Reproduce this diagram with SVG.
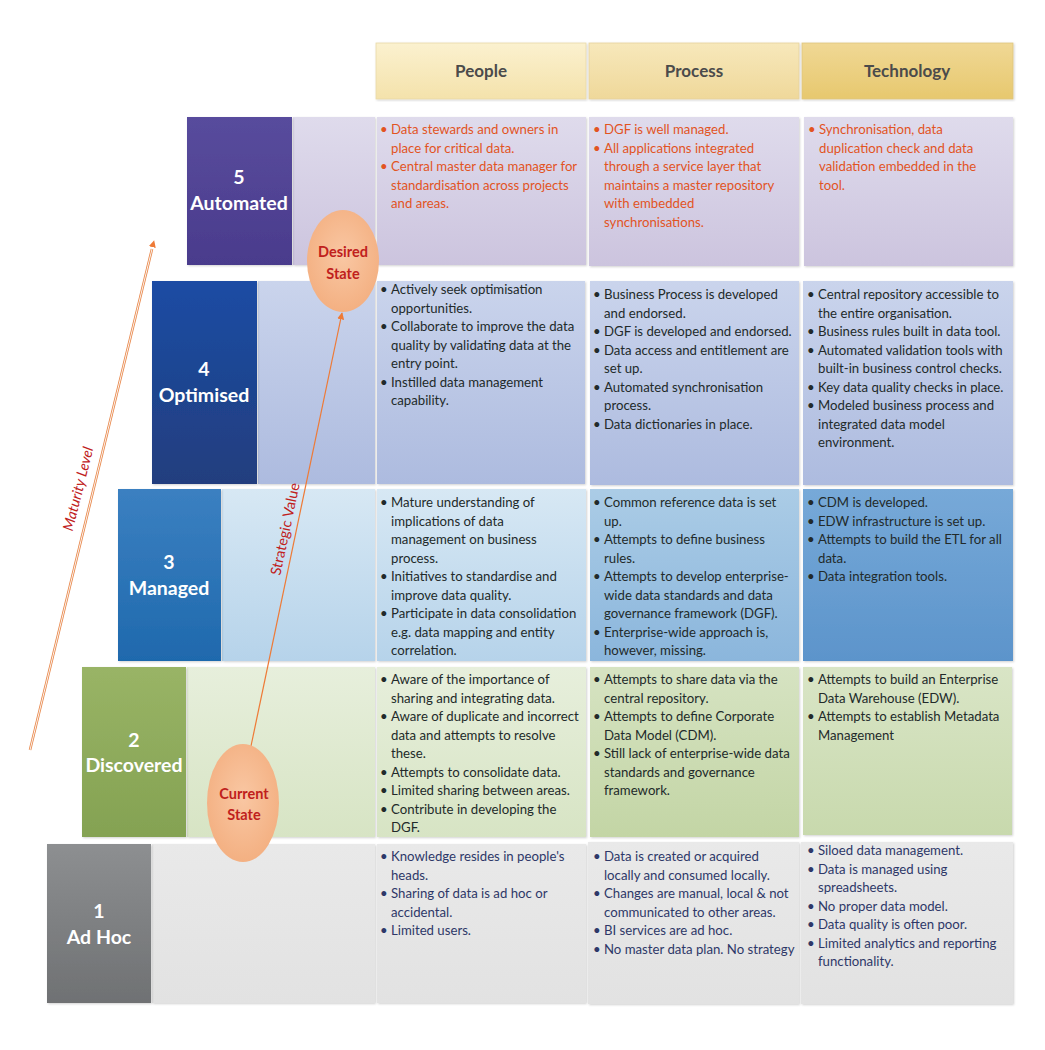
<svg xmlns="http://www.w3.org/2000/svg" width="1045" height="1050" viewBox="0 0 1045 1050">
<defs>
<linearGradient id="h1" x1="0" y1="0" x2="0" y2="1"><stop offset="0" stop-color="#fbf1cf"/><stop offset="1" stop-color="#f4e2ab"/></linearGradient>
<linearGradient id="h2" x1="0" y1="0" x2="0" y2="1"><stop offset="0" stop-color="#f7e8bb"/><stop offset="1" stop-color="#efd89a"/></linearGradient>
<linearGradient id="h3" x1="0" y1="0" x2="0" y2="1"><stop offset="0" stop-color="#f0d895"/><stop offset="1" stop-color="#e7c86e"/></linearGradient>
<linearGradient id="l5" x1="0" y1="0" x2="0" y2="1"><stop offset="0" stop-color="#584c9d"/><stop offset="1" stop-color="#4a3b8c"/></linearGradient>
<linearGradient id="c5" x1="0" y1="0" x2="0" y2="1"><stop offset="0" stop-color="#dfdbec"/><stop offset="1" stop-color="#ccc4de"/></linearGradient>
<linearGradient id="l4" x1="0" y1="0" x2="0" y2="1"><stop offset="0" stop-color="#1a4ca4"/><stop offset="1" stop-color="#233e7e"/></linearGradient>
<linearGradient id="c4" x1="0" y1="0" x2="0" y2="1"><stop offset="0" stop-color="#cad4ec"/><stop offset="1" stop-color="#adbbdf"/></linearGradient>
<linearGradient id="l3" x1="0" y1="0" x2="0" y2="1"><stop offset="0" stop-color="#3b80c1"/><stop offset="1" stop-color="#1f69ad"/></linearGradient>
<linearGradient id="c3a" x1="0" y1="0" x2="0" y2="1"><stop offset="0" stop-color="#d7e8f4"/><stop offset="1" stop-color="#b6d3ea"/></linearGradient>
<linearGradient id="c3b" x1="0" y1="0" x2="0" y2="1"><stop offset="0" stop-color="#abcce6"/><stop offset="1" stop-color="#8bb6dc"/></linearGradient>
<linearGradient id="c3c" x1="0" y1="0" x2="0" y2="1"><stop offset="0" stop-color="#77a9d8"/><stop offset="1" stop-color="#5c94cb"/></linearGradient>
<linearGradient id="l2" x1="0" y1="0" x2="0" y2="1"><stop offset="0" stop-color="#99b466"/><stop offset="1" stop-color="#84a252"/></linearGradient>
<linearGradient id="c2a" x1="0" y1="0" x2="0" y2="1"><stop offset="0" stop-color="#e7efdc"/><stop offset="1" stop-color="#d7e4c4"/></linearGradient>
<linearGradient id="c2b" x1="0" y1="0" x2="0" y2="1"><stop offset="0" stop-color="#d6e3c2"/><stop offset="1" stop-color="#c3d5a5"/></linearGradient>
<linearGradient id="c2c" x1="0" y1="0" x2="0" y2="1"><stop offset="0" stop-color="#d9e5c6"/><stop offset="1" stop-color="#c8d9ad"/></linearGradient>
<linearGradient id="l1" x1="0" y1="0" x2="0" y2="1"><stop offset="0" stop-color="#8d8f91"/><stop offset="1" stop-color="#6f7173"/></linearGradient>
<linearGradient id="c1" x1="0" y1="0" x2="0" y2="1"><stop offset="0" stop-color="#e9e9e9"/><stop offset="1" stop-color="#e2e2e2"/></linearGradient>
<radialGradient id="ov" cx="0.5" cy="0.45" r="0.6"><stop offset="0" stop-color="#f9c7a3"/><stop offset="1" stop-color="#f3ae7f"/></radialGradient>
<marker id="ah" viewBox="0 0 10 10" refX="9" refY="5" markerWidth="7" markerHeight="7" orient="auto-start-reverse" markerUnits="userSpaceOnUse"><path d="M0,0 L10,5 L0,10 z" fill="#ee7a36"/></marker>
<filter id="sh" x="-5%" y="-5%" width="110%" height="110%"><feDropShadow dx="1" dy="1" stdDeviation="0.8" flood-color="#000" flood-opacity="0.18"/></filter>
</defs>
<style>
.hd{font-family:Lato,"Liberation Sans",sans-serif;font-weight:bold;font-size:17px;fill:#4b4b4b;text-anchor:middle}
.lb{font-family:Lato,"Liberation Sans",sans-serif;font-weight:bold;font-size:19.5px;fill:#ffffff;text-anchor:middle}
.t{font-family:Lato,"Liberation Sans",sans-serif;font-size:13.2px;fill:#222a2a}
.o{fill:#e2541f}
.n{fill:#2e3868}
.st{font-family:Lato,"Liberation Sans",sans-serif;font-weight:bold;font-size:14.5px;fill:#c0201c;text-anchor:middle}
.ax{font-family:Lato,"Liberation Sans",sans-serif;font-style:italic;font-size:14.5px;fill:#c0201c;text-anchor:middle}
.cell{filter:url(#sh)}
</style>
<rect width="1045" height="1050" fill="#ffffff"/>

<g id="headers">
<g id="hdr-people"><rect class="cell" x="376" y="43" width="210" height="56" fill="url(#h1)" stroke="#e8d9a8" stroke-width="0.8"/><text class="hd" x="481" y="77">People</text></g>
<g id="hdr-process"><rect class="cell" x="589" y="43" width="210" height="56" fill="url(#h2)" stroke="#e5d39d" stroke-width="0.8"/><text class="hd" x="694" y="77">Process</text></g>
<g id="hdr-technology"><rect class="cell" x="802" y="43" width="211" height="56" fill="url(#h3)" stroke="#dfc57e" stroke-width="0.8"/><text class="hd" x="907" y="77">Technology</text></g>
</g>

<g id="level5">
<rect class="cell" x="293" y="117" width="82" height="148" fill="url(#c5)"/>
<rect class="cell" x="377" y="117" width="209" height="148" fill="url(#c5)"/>
<rect class="cell" x="589" y="117" width="210" height="149" fill="url(#c5)"/>
<rect class="cell" x="804" y="117" width="209" height="149" fill="url(#c5)"/>
<rect class="cell" x="187" y="117" width="105" height="148" fill="url(#l5)"/>
<text class="lb"><tspan x="239" y="184">5</tspan><tspan x="239" y="210">Automated</tspan></text>
<text class="t o"><tspan x="380" y="134">•</tspan><tspan x="391" y="134">Data stewards and owners in</tspan><tspan x="391" y="152.5">place for critical data.</tspan><tspan x="380" y="171">•</tspan><tspan x="391" y="171">Central master data manager for</tspan><tspan x="391" y="189.5">standardisation across projects</tspan><tspan x="391" y="208">and areas.</tspan></text>
<text class="t o"><tspan x="593" y="134">•</tspan><tspan x="604" y="134">DGF is well managed.</tspan><tspan x="593" y="152.5">•</tspan><tspan x="604" y="152.5">All applications integrated</tspan><tspan x="604" y="171">through a service layer that</tspan><tspan x="604" y="189.5">maintains a master repository</tspan><tspan x="604" y="208">with embedded</tspan><tspan x="604" y="226.5">synchronisations.</tspan></text>
<text class="t o"><tspan x="808" y="134">•</tspan><tspan x="819" y="134">Synchronisation, data</tspan><tspan x="819" y="152.5">duplication check and data</tspan><tspan x="819" y="171">validation embedded in the</tspan><tspan x="819" y="189.5">tool.</tspan></text>
</g>

<g id="level4">
<rect class="cell" x="258" y="281" width="117" height="203" fill="url(#c4)"/>
<rect class="cell" x="377" y="281" width="208" height="203" fill="url(#c4)"/>
<rect class="cell" x="590" y="281" width="209" height="204" fill="url(#c4)"/>
<rect class="cell" x="803" y="281" width="210" height="204" fill="url(#c4)"/>
<rect class="cell" x="152" y="281" width="105" height="203" fill="url(#l4)"/>
<text class="lb"><tspan x="204" y="376">4</tspan><tspan x="204" y="402">Optimised</tspan></text>
<text class="t"><tspan x="380" y="294">•</tspan><tspan x="391" y="294">Actively seek optimisation</tspan><tspan x="391" y="312.5">opportunities.</tspan><tspan x="380" y="331">•</tspan><tspan x="391" y="331">Collaborate to improve the data</tspan><tspan x="391" y="349.5">quality by validating data at the</tspan><tspan x="391" y="368">entry point.</tspan><tspan x="380" y="386.5">•</tspan><tspan x="391" y="386.5">Instilled data management</tspan><tspan x="391" y="405">capability.</tspan></text>
<text class="t"><tspan x="593" y="299">•</tspan><tspan x="604" y="299">Business Process is developed</tspan><tspan x="604" y="317.5">and endorsed.</tspan><tspan x="593" y="336">•</tspan><tspan x="604" y="336">DGF is developed and endorsed.</tspan><tspan x="593" y="354.5">•</tspan><tspan x="604" y="354.5">Data access and entitlement are</tspan><tspan x="604" y="373">set up.</tspan><tspan x="593" y="391.5">•</tspan><tspan x="604" y="391.5">Automated synchronisation</tspan><tspan x="604" y="410">process.</tspan><tspan x="593" y="428.5">•</tspan><tspan x="604" y="428.5">Data dictionaries in place.</tspan></text>
<text class="t"><tspan x="807" y="299">•</tspan><tspan x="818" y="299">Central repository accessible to</tspan><tspan x="818" y="317.5">the entire organisation.</tspan><tspan x="807" y="336">•</tspan><tspan x="818" y="336">Business rules built in data tool.</tspan><tspan x="807" y="354.5">•</tspan><tspan x="818" y="354.5">Automated validation tools with</tspan><tspan x="818" y="373">built-in business control checks.</tspan><tspan x="807" y="391.5">•</tspan><tspan x="818" y="391.5">Key data quality checks in place.</tspan><tspan x="807" y="410">•</tspan><tspan x="818" y="410">Modeled business process and</tspan><tspan x="818" y="428.5">integrated data model</tspan><tspan x="818" y="447">environment.</tspan></text>
</g>

<g id="level3">
<rect class="cell" x="222" y="489" width="153" height="172" fill="url(#c3a)"/>
<rect class="cell" x="377" y="489" width="209" height="172" fill="url(#c3a)"/>
<rect class="cell" x="590" y="489" width="209" height="172" fill="url(#c3b)"/>
<rect class="cell" x="803" y="489" width="210" height="172" fill="url(#c3c)"/>
<rect class="cell" x="118" y="489" width="103" height="172" fill="url(#l3)"/>
<text class="lb"><tspan x="169" y="569">3</tspan><tspan x="169" y="595">Managed</tspan></text>
<text class="t"><tspan x="380" y="507">•</tspan><tspan x="391" y="507">Mature understanding of</tspan><tspan x="391" y="525.5">implications of data</tspan><tspan x="391" y="544">management on business</tspan><tspan x="391" y="562.5">process.</tspan><tspan x="380" y="581">•</tspan><tspan x="391" y="581">Initiatives to standardise and</tspan><tspan x="391" y="599.5">improve data quality.</tspan><tspan x="380" y="618">•</tspan><tspan x="391" y="618">Participate in data consolidation</tspan><tspan x="391" y="636.5">e.g. data mapping and entity</tspan><tspan x="391" y="655">correlation.</tspan></text>
<text class="t"><tspan x="593" y="507">•</tspan><tspan x="604" y="507">Common reference data is set</tspan><tspan x="604" y="525.5">up.</tspan><tspan x="593" y="544">•</tspan><tspan x="604" y="544">Attempts to define business</tspan><tspan x="604" y="562.5">rules.</tspan><tspan x="593" y="581">•</tspan><tspan x="604" y="581">Attempts to develop enterprise-</tspan><tspan x="604" y="599.5">wide data standards and data</tspan><tspan x="604" y="618">governance framework (DGF).</tspan><tspan x="593" y="636.5">•</tspan><tspan x="604" y="636.5">Enterprise-wide approach is,</tspan><tspan x="604" y="655">however, missing.</tspan></text>
<text class="t"><tspan x="807" y="507">•</tspan><tspan x="818" y="507">CDM is developed.</tspan><tspan x="807" y="525.5">•</tspan><tspan x="818" y="525.5">EDW infrastructure is set up.</tspan><tspan x="807" y="544">•</tspan><tspan x="818" y="544">Attempts to build the ETL for all</tspan><tspan x="818" y="562.5">data.</tspan><tspan x="807" y="581">•</tspan><tspan x="818" y="581">Data integration tools.</tspan></text>
</g>

<g id="level2">
<rect class="cell" x="187" y="667" width="188" height="170" fill="url(#c2a)"/>
<rect class="cell" x="377" y="667" width="209" height="170" fill="url(#c2a)"/>
<rect class="cell" x="590" y="667" width="209" height="170" fill="url(#c2b)"/>
<rect class="cell" x="803" y="667" width="209" height="168" fill="url(#c2c)"/>
<rect class="cell" x="82" y="667" width="104" height="170" fill="url(#l2)"/>
<text class="lb"><tspan x="134" y="747">2</tspan><tspan x="134" y="772">Discovered</tspan></text>
<text class="t"><tspan x="380" y="684">•</tspan><tspan x="391" y="684">Aware of the importance of</tspan><tspan x="391" y="702.5">sharing and integrating data.</tspan><tspan x="380" y="721">•</tspan><tspan x="391" y="721">Aware of duplicate and incorrect</tspan><tspan x="391" y="739.5">data and attempts to resolve</tspan><tspan x="391" y="758">these.</tspan><tspan x="380" y="776.5">•</tspan><tspan x="391" y="776.5">Attempts to consolidate data.</tspan><tspan x="380" y="795">•</tspan><tspan x="391" y="795">Limited sharing between areas.</tspan><tspan x="380" y="813.5">•</tspan><tspan x="391" y="813.5">Contribute in developing the</tspan><tspan x="391" y="832">DGF.</tspan></text>
<text class="t"><tspan x="593" y="684">•</tspan><tspan x="604" y="684">Attempts to share data via the</tspan><tspan x="604" y="702.5">central repository.</tspan><tspan x="593" y="721">•</tspan><tspan x="604" y="721">Attempts to define Corporate</tspan><tspan x="604" y="739.5">Data Model (CDM).</tspan><tspan x="593" y="758">•</tspan><tspan x="604" y="758">Still lack of enterprise-wide data</tspan><tspan x="604" y="776.5">standards and governance</tspan><tspan x="604" y="795">framework.</tspan></text>
<text class="t"><tspan x="807" y="684">•</tspan><tspan x="818" y="684">Attempts to build an Enterprise</tspan><tspan x="818" y="702.5">Data Warehouse (EDW).</tspan><tspan x="807" y="721">•</tspan><tspan x="818" y="721">Attempts to establish Metadata</tspan><tspan x="818" y="739.5">Management</tspan></text>
</g>

<g id="level1">
<rect class="cell" x="152" y="844" width="223" height="159" fill="url(#c1)"/>
<rect class="cell" x="377" y="844" width="209" height="159" fill="url(#c1)"/>
<rect class="cell" x="588" y="842" width="211" height="162" fill="url(#c1)"/>
<rect class="cell" x="801" y="842" width="212" height="162" fill="url(#c1)"/>
<rect class="cell" x="47" y="844" width="104" height="159" fill="url(#l1)"/>
<text class="lb"><tspan x="99" y="918">1</tspan><tspan x="99" y="944">Ad Hoc</tspan></text>
<text class="t n"><tspan x="380" y="861">•</tspan><tspan x="391" y="861">Knowledge resides in people's</tspan><tspan x="391" y="879.5">heads.</tspan><tspan x="380" y="898">•</tspan><tspan x="391" y="898">Sharing of data is ad hoc or</tspan><tspan x="391" y="916.5">accidental.</tspan><tspan x="380" y="935">•</tspan><tspan x="391" y="935">Limited users.</tspan></text>
<text class="t n"><tspan x="593" y="861">•</tspan><tspan x="604" y="861">Data is created or acquired</tspan><tspan x="604" y="879.5">locally and consumed locally.</tspan><tspan x="593" y="898">•</tspan><tspan x="604" y="898">Changes are manual, local &amp; not</tspan><tspan x="604" y="916.5">communicated to other areas.</tspan><tspan x="593" y="935">•</tspan><tspan x="604" y="935">BI services are ad hoc.</tspan><tspan x="593" y="953.5">•</tspan><tspan x="604" y="953.5">No master data plan. No strategy</tspan></text>
<text class="t n"><tspan x="807" y="855">•</tspan><tspan x="818" y="855">Siloed data management.</tspan><tspan x="807" y="873.5">•</tspan><tspan x="818" y="873.5">Data is managed using</tspan><tspan x="818" y="892">spreadsheets.</tspan><tspan x="807" y="910.5">•</tspan><tspan x="818" y="910.5">No proper data model.</tspan><tspan x="807" y="929">•</tspan><tspan x="818" y="929">Data quality is often poor.</tspan><tspan x="807" y="947.5">•</tspan><tspan x="818" y="947.5">Limited analytics and reporting</tspan><tspan x="818" y="966">functionality.</tspan></text>
</g>

<g id="connectors">
<line x1="30" y1="750" x2="152" y2="249" stroke="#e8874a" stroke-width="2.6"/>
<line x1="30" y1="750" x2="152" y2="249" stroke="#ffffff" stroke-width="0.9"/>
<line x1="151" y1="252" x2="154" y2="241" stroke="none" marker-end="url(#ah)"/>
<line x1="251" y1="746" x2="342" y2="313" stroke="#ee7a36" stroke-width="1.2" marker-end="url(#ah)"/>
<text class="ax" transform="translate(83,490) rotate(-76)">Maturity Level</text>
<text class="ax" style="font-style:normal" transform="translate(290,530) rotate(-78)">Strategic Value</text>
</g>

<g id="desired-state">
<ellipse cx="343" cy="261" rx="36" ry="51" fill="url(#ov)"/>
<text class="st"><tspan x="343" y="257">Desired</tspan><tspan x="343" y="279">State</tspan></text>
</g>
<g id="current-state">
<ellipse cx="243" cy="803" rx="36" ry="59" fill="url(#ov)"/>
<text class="st"><tspan x="244" y="799">Current</tspan><tspan x="244" y="820">State</tspan></text>
</g>
</svg>
